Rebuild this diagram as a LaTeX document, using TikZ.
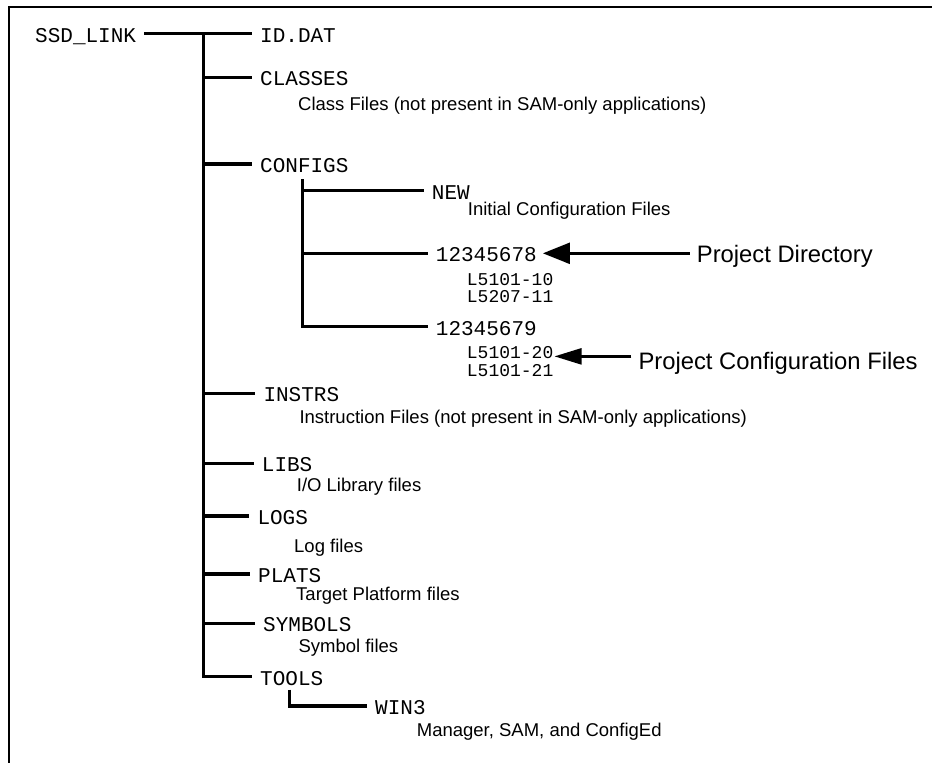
\documentclass[tikz,border=0pt]{standalone}
\usepackage{fontspec}
\setmainfont{Liberation Sans}
\newfontfamily\treefont{Liberation Mono}
\usetikzlibrary{arrows.meta}
\newcommand{\dirfont}{\treefont\fontsize{21}{21}\selectfont}
\newcommand{\leaffont}{\treefont\fontsize{18}{18}\selectfont}
\newcommand{\notefont}{\fontsize{18.5}{18.5}\selectfont}
\newcommand{\callfont}{\fontsize{23.8}{23.8}\selectfont}

\begin{document}
\begin{tikzpicture}[x=1pt,y=-1pt,
  dir/.style={font=\dirfont,anchor=west,inner xsep=8pt,text height=17pt,text depth=0pt},
  leaf/.style={font=\leaffont,anchor=base west,inner sep=0pt},
  note/.style={font=\notefont,anchor=base west,inner sep=0pt},
  callout/.style={font=\callfont,anchor=base west,inner xsep=7pt,inner ysep=0pt},
  tree/.style={line width=3.2pt,line cap=butt},
  pointer/.style={line width=2.4pt}]
\useasboundingbox (0,0) rectangle (932,763);
% frame
\draw[line width=2pt] (9,763) |- (932,7.3);
% root and top level folders
\node[dir] (root) at (27,33.5) {SSD\_LINK};
\node[dir] (idat) at (252,33.5) {ID.DAT};
\node[dir] (classes) at (252,77.3) {CLASSES};
\node[dir] (configs) at (252,164) {CONFIGS};
\node[dir] (instrs) at (255.3,393.3) {INSTRS};
\node[dir] (libs) at (253.7,463.3) {LIBS};
\node[dir] (logs) at (249.3,516) {LOGS};
\node[dir] (plats) at (250,574) {PLATS};
\node[dir] (symbols) at (255,623.3) {SYMBOLS};
\node[dir] (tools) at (252,676.7) {TOOLS};
% sub folders
\node[dir] (new) at (423.7,190.7) {NEW};
\node[dir] (p678) at (427.7,253.3) {12345678};
\node[dir] (p679) at (427.7,326.7) {12345679};
\node[dir] (win) at (367,706) {WIN3};
% files
\node[leaf] (l10) at (466.7,285) {L5101-10};
\node[leaf] (l11) at (466.7,302.5) {L5207-11};
\node[leaf] (l20) at (466.7,358.3) {L5101-20};
\node[leaf] (l21) at (466.7,376.7) {L5101-21};
% descriptions
\node[note] (dclasses) at (298,110) {Class Files (not present in SAM-only applications)};
\node[note] (dnew) at (467.7,215.5) {Initial Configuration Files};
\node[note] (dinstrs) at (299.3,423.3) {Instruction Files (not present in SAM-only applications)};
\node[note] (dlibs) at (296.7,491.7) {I/O Library files};
\node[note] (dlogs) at (294,552) {Log files};
\node[note] (dplats) at (296,600) {Target Platform files};
\node[note] (dsymbols) at (298.3,652.5) {Symbol files};
\node[note] (dwin) at (416.7,736.5) {Manager, SAM, and ConfigEd};
% callouts
\node[callout] (pdir) at (689.7,262.7) {Project Directory};
\node[callout] (pcfg) at (631.3,369) {Project Configuration Files};
% tree lines
\coordinate (tk) at (203.3,33.5);
\coordinate (ck) at (302.7,179.3);
\coordinate (wk) at (289.3,689.5);
\draw[tree] (root.east) -- (idat.west);
\draw[tree] (tk) |- (tools.west);
\foreach \d in {classes,configs,instrs,libs,logs,plats,symbols}
  \draw[tree] (\d.west -| tk) -- (\d.west);
\draw[tree] (ck) |- (p679.west);
\draw[tree] (new.west -| ck) -- (new.west);
\draw[tree] (p678.west -| ck) -- (p678.west);
\draw[tree] (wk) |- (win.west);
% arrows
\draw[pointer,-{Triangle[length=27pt,width=21pt]}] (p678.east -| pdir.base west) -- ([xshift=-2pt]p678.east);
\draw[pointer,-{Triangle[length=27pt,width=16pt]}] ([yshift=-4pt]l20.east -| pcfg.base west) -- ([xshift=1pt,yshift=-4pt]l20.east);
\end{tikzpicture}
\end{document}
